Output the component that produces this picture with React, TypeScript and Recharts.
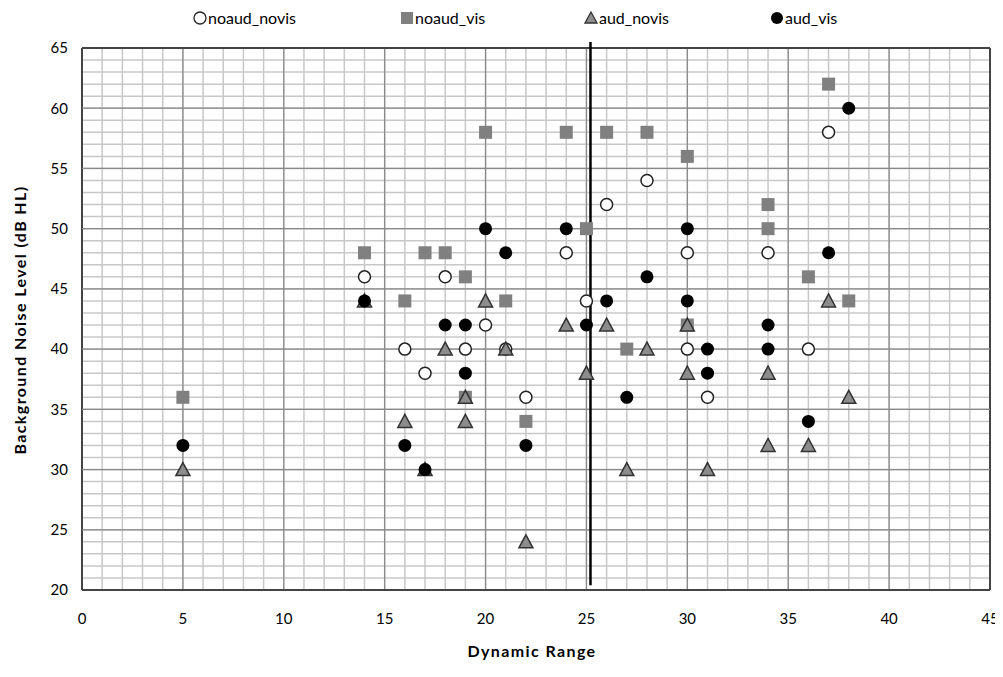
import React from "react";
import {
  CartesianGrid,
  ReferenceLine,
  Scatter,
  ScatterChart,
  XAxis,
  YAxis,
} from "recharts";

// [dynamic range, background noise level]
const noaudNovis: [number, number][] = [
  [14, 46], [16, 40], [17, 38], [18, 46], [19, 40], [20, 42], [21, 40],
  [22, 36], [24, 48], [25, 44], [26, 52], [28, 54], [30, 48], [30, 40],
  [31, 36], [34, 48], [36, 40], [37, 58],
];

const noaudVis: [number, number][] = [
  [5, 36], [14, 48], [16, 44], [17, 48], [18, 48], [19, 46], [19, 36],
  [20, 58], [21, 44], [22, 34], [24, 58], [25, 50], [26, 58], [27, 40],
  [28, 58], [30, 56], [30, 42], [34, 52], [34, 50], [36, 46], [37, 62],
  [38, 44],
];

const audNovis: [number, number][] = [
  [5, 30], [14, 44], [16, 34], [17, 30], [18, 40], [19, 36], [19, 34],
  [20, 44], [21, 40], [22, 24], [24, 42], [25, 38], [26, 42], [27, 30],
  [28, 40], [30, 42], [30, 38], [31, 30], [34, 38], [34, 32], [36, 32],
  [37, 44], [38, 36],
];

const audVis: [number, number][] = [
  [5, 32], [14, 44], [16, 32], [17, 30], [18, 42], [19, 42], [19, 38],
  [20, 50], [21, 48], [22, 32], [24, 50], [25, 42], [26, 44], [27, 36],
  [28, 46], [30, 50], [30, 44], [31, 40], [31, 38], [34, 42], [34, 40],
  [36, 34], [37, 48], [38, 60],
];

const xMajorTicks = [0, 5, 10, 15, 20, 25, 30, 35, 40, 45];
const yMajorTicks = [20, 25, 30, 35, 40, 45, 50, 55, 60, 65];
const cutoffX = 25.2;

// minor grid every 1 unit
const xAllTicks = Array.from({ length: 46 }, (_, i) => i);
const yAllTicks = Array.from({ length: 46 }, (_, i) => 20 + i);

const toPoints = (arr: [number, number][]) => arr.map(([x, y]) => ({ x, y }));

const FONT = "Lato, 'Open Sans', sans-serif";

const OpenCircle = (p: any) => (
  <circle cx={p.cx} cy={p.cy} r={6} fill="#fff" stroke="#222" strokeWidth={1.5} />
);
const GraySquare = (p: any) => (
  <rect x={p.cx - 6.5} y={p.cy - 6.5} width={13} height={13} fill="#808080" />
);
const GrayTriangle = (p: any) => (
  <polygon
    points={`${p.cx},${p.cy - 7} ${p.cx + 7},${p.cy + 6} ${p.cx - 7},${p.cy + 6}`}
    fill="#8c8c8c"
    stroke="#333"
    strokeWidth={1.5}
  />
);
const BlackDot = (p: any) => <circle cx={p.cx} cy={p.cy} r={6.5} fill="#000" />;

const legendItems = [
  { label: "noaud_novis", left: 185, icon: <circle cx={7} cy={7} r={6} fill="#fff" stroke="#222" strokeWidth={1.3} /> },
  { label: "noaud_vis", left: 392, icon: <rect x={1} y={1} width={12} height={12} fill="#808080" /> },
  { label: "aud_novis", left: 576, icon: <polygon points="7,1 13,12 1,12" fill="#8c8c8c" stroke="#333" strokeWidth={1.3} /> },
  { label: "aud_vis", left: 762, icon: <circle cx={7} cy={7} r={6} fill="#000" /> },
];

export default function App() {
  return (
    <div style={{ position: "relative", width: 995, height: 661, fontFamily: FONT }}>
      {legendItems.map((it) => (
        <div
          key={it.label}
          style={{
            position: "absolute",
            top: 0,
            left: it.left,
            display: "flex",
            alignItems: "center",
            gap: 1,
            fontSize: 16,
            color: "#000",
          }}
        >
          <svg width={14} height={14}>{it.icon}</svg>
          <span>{it.label}</span>
        </div>
      ))}

      <div
        style={{
          position: "absolute",
          left: 11,
          top: 312,
          transform: "translate(-50%, -50%) rotate(-90deg)",
          transformOrigin: "center",
          whiteSpace: "nowrap",
          fontWeight: 700,
          fontSize: 16,
          letterSpacing: 1.4,
          zIndex: 1,
        }}
      >
        Background Noise Level (dB HL)
      </div>
      <div
        style={{
          position: "absolute",
          left: 524,
          top: 633,
          transform: "translateX(-50%)",
          fontWeight: 700,
          fontSize: 16,
          letterSpacing: 1.4,
          whiteSpace: "nowrap",
        }}
      >
        Dynamic Range
      </div>

      <ScatterChart
        width={995}
        height={661}
        margin={{ top: 40, right: 13, bottom: 31, left: 0 }}
        style={{ position: "absolute", left: 0, top: 0 }}
      >
        <CartesianGrid stroke="#c8c8c8" strokeWidth={1.5} />
        <XAxis
          type="number"
          dataKey="x"
          domain={[0, 45]}
          ticks={xAllTicks}
          interval={0}
          allowDecimals={false}
          tickFormatter={(v: number) => (xMajorTicks.includes(v) ? String(v) : "")}
          tickLine={false}
          axisLine={false}
          tickSize={0}
          tickMargin={23}
          height={48}
          tick={{ fontSize: 15, fill: "#000", fontFamily: FONT }}
        />
        <YAxis
          type="number"
          dataKey="y"
          domain={[20, 65]}
          ticks={yAllTicks}
          interval={0}
          tickFormatter={(v: number) => (yMajorTicks.includes(v) ? String(v) : "")}
          tickLine={false}
          axisLine={false}
          tickSize={0}
          tickMargin={14}
          width={74}
          tick={{ fontSize: 15, fill: "#000", fontFamily: FONT }}
        />
        {xMajorTicks.map((v) => (
          <ReferenceLine
            key={`xm${v}`}
            x={v}
            stroke={v === 0 || v === 45 ? "#444" : "#888"}
            strokeWidth={v === 0 || v === 45 ? 2 : 1.2}
          />
        ))}
        {yMajorTicks.map((v) => (
          <ReferenceLine
            key={`ym${v}`}
            y={v}
            stroke={v === 20 || v === 65 ? "#444" : "#888"}
            strokeWidth={v === 20 || v === 65 ? 2 : 1.2}
          />
        ))}
        <ReferenceLine
          segment={[
            { x: cutoffX, y: 20.4 },
            { x: cutoffX, y: 65.5 },
          ]}
          stroke="#000"
          strokeWidth={2.5}
          ifOverflow="visible"
        />
        <Scatter name="noaud_novis" data={toPoints(noaudNovis)} shape={OpenCircle} isAnimationActive={false} />
        <Scatter name="noaud_vis" data={toPoints(noaudVis)} shape={GraySquare} isAnimationActive={false} />
        <Scatter name="aud_novis" data={toPoints(audNovis)} shape={GrayTriangle} isAnimationActive={false} />
        <Scatter name="aud_vis" data={toPoints(audVis)} shape={BlackDot} isAnimationActive={false} />
      </ScatterChart>
    </div>
  );
}
